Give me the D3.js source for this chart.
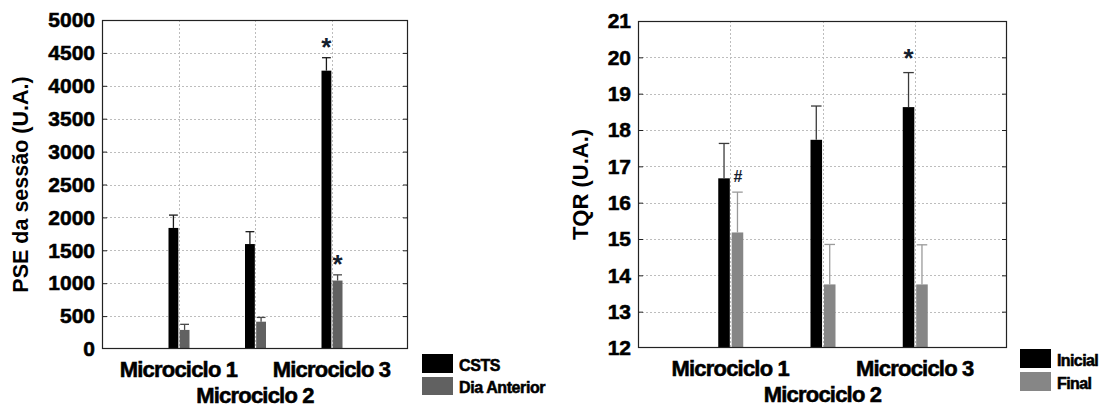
<!DOCTYPE html>
<html>
<head>
<meta charset="utf-8">
<script src="https://cdn.jsdelivr.net/npm/d3@7/dist/d3.min.js"></script>
<style>
  html, body { margin: 0; padding: 0; background: #fff; }
  svg { display: block; }
  text { font-family: "Liberation Sans", Arial, sans-serif; }
  .heavy { font-weight: bold; stroke: #000; stroke-width: 0.55px; paint-order: stroke; }
</style>
</head>
<body>
<svg id="chart" width="1107" height="407"></svg>
<script>
// Categories shared by both panels
const categories = ["Microciclo 1", "Microciclo 2", "Microciclo 3"];

// Panel A: session RPE (PSE da sessão)
const pseSeries = ["CSTS", "Dia Anterior"];
const pseCsts = [1840, 1595, 4230];
const pseCstsSd = [195, 188, 197];
const pseDia = [290, 415, 1040];
const pseDiaSd = [85, 65, 87];
const pseTicks = [0, 500, 1000, 1500, 2000, 2500, 3000, 3500, 4000, 4500, 5000];
// significance marks: [series index, category index, symbol]
const pseMarks = [[0, 2, "*"], [1, 2, "*"]];

// Panel B: total quality recovery (TQR)
const tqrSeries = ["Inicial", "Final"];
const tqrInicial = [16.67, 17.73, 18.63];
const tqrInicialSd = [0.96, 0.93, 0.95];
const tqrFinal = [15.18, 13.75, 13.75];
const tqrFinalSd = [1.11, 1.10, 1.09];
const tqrTicks = [12, 13, 14, 15, 16, 17, 18, 19, 20, 21];
const tqrMarks = [[0, 2, "*"], [1, 0, "#"]];

const svg = d3.select("#chart");

function panel(cfg) {
  const g = svg.append("g");
  const y = d3.scaleLinear().domain(cfg.domain).range([cfg.y1, cfg.y0]);
  const x = d3.scalePoint().domain(categories).range([cfg.x0, cfg.x1]).padding(1);
  const sub = d3.scaleBand().domain(cfg.series).range(cfg.subRange).paddingInner(cfg.subPad);

  // dotted grid
  g.append("g").selectAll("line").data(cfg.ticks.slice(1, -1)).join("line")
    .attr("x1", cfg.x0).attr("x2", cfg.x1)
    .attr("y1", d => Math.round(y(d)) + 0.5).attr("y2", d => Math.round(y(d)) + 0.5)
    .attr("stroke", "#bdbdbd").attr("stroke-dasharray", "2,2");
  g.append("g").selectAll("line").data(categories).join("line")
    .attr("x1", d => Math.round(x(d)) + 0.5).attr("x2", d => Math.round(x(d)) + 0.5)
    .attr("y1", cfg.y0).attr("y2", cfg.y1)
    .attr("stroke", "#bdbdbd").attr("stroke-dasharray", "2,2");

  // bars and error bars
  cfg.series.forEach((s, si) => {
    const vals = cfg.values[si], sds = cfg.sds[si];
    const bw = sub.bandwidth();
    g.append("g").selectAll("rect").data(categories).join("rect")
      .attr("x", (c) => x(c) + sub(s))
      .attr("width", bw)
      .attr("y", (c, i) => y(vals[i]))
      .attr("height", (c, i) => cfg.y1 - y(vals[i]))
      .attr("fill", cfg.colors[si]);
    const eg = g.append("g").attr("stroke", cfg.errColors[si]).attr("stroke-width", 1.3);
    categories.forEach((c, i) => {
      const cx = x(c) + sub(s) + bw / 2;
      const top = y(vals[i] + sds[i]);
      eg.append("line").attr("x1", cx).attr("x2", cx).attr("y1", y(vals[i])).attr("y2", top);
      eg.append("line").attr("x1", cx - bw / 2 + 0.5).attr("x2", cx + bw / 2 - 0.5).attr("y1", top).attr("y2", top);
    });
  });

  // significance marks
  cfg.marks.forEach(([si, ci, sym]) => {
    const s = cfg.series[si];
    const cx = x(categories[ci]) + sub(s) + sub.bandwidth() / 2;
    const top = y(cfg.values[si][ci] + cfg.sds[si][ci]);
    const star = sym === "*";
    g.append("text")
      .attr("x", cx + (star ? 0 : 0.5))
      .attr("y", star ? top - cfg.markGap + 15 : top - 10)
      .attr("text-anchor", "middle")
      .style("font-size", (star ? 26 : 16) + "px")
      .style("font-weight", "bold")
      .attr("fill", "#14202e")
      .text(sym);
  });

  // frame
  g.append("rect").attr("x", cfg.x0 + 0.5).attr("y", cfg.y0 + 0.5)
    .attr("width", cfg.x1 - cfg.x0 - 1).attr("height", cfg.y1 - cfg.y0 - 1)
    .attr("fill", "none").attr("stroke", "#222").attr("stroke-width", 1.2);

  // y axis: labels on the left, short inward ticks on both edges
  const yAxis = d3.axisLeft(y).tickValues(cfg.ticks).tickSize(0).tickPadding(7).tickFormat(d3.format("d"));
  const ya = g.append("g").attr("transform", `translate(${cfg.x0},0)`).call(yAxis);
  ya.select(".domain").remove();
  ya.attr("font-size", null).attr("font-family", null);
  ya.selectAll("text")
    .attr("class", "heavy")
    .style("font-size", "21px")
    .style("font-family", "'Liberation Sans', Arial, sans-serif")
    .attr("fill", "#000");
  const inner = cfg.ticks.slice(1, -1);
  const yl = g.append("g").attr("transform", `translate(${cfg.x0 + 1},0)`)
    .call(d3.axisRight(y).tickValues(inner).tickSize(4).tickFormat(""));
  yl.select(".domain").remove();
  yl.selectAll("line").attr("stroke", "#222");
  const yr = g.append("g").attr("transform", `translate(${cfg.x1 - 1},0)`)
    .call(d3.axisLeft(y).tickValues(inner).tickSize(4).tickFormat(""));
  yr.select(".domain").remove();
  yr.selectAll("line").attr("stroke", "#222");

  // x labels, staggered
  categories.forEach((c, i) => {
    g.append("text")
      .attr("class", "heavy")
      .attr("x", x(c))
      .attr("y", i === 1 ? cfg.y1 + 54 : cfg.y1 + 28)
      .attr("text-anchor", "middle")
      .style("font-size", "22px")
      .attr("letter-spacing", -0.8)
      .text(c);
  });

  // y title
  g.append("text")
    .attr("transform", `translate(${cfg.titleX},${(cfg.y0 + cfg.y1) / 2}) rotate(-90)`)
    .attr("text-anchor", "middle").attr("dominant-baseline", "central")
    .style("font-size", cfg.titleSize + "px").style("font-weight", "bold")
    .text(cfg.title);

  // legend
  cfg.series.forEach((s, si) => {
    const [lx, ly, lh] = cfg.legend[si];
    g.append("rect").attr("x", lx).attr("y", ly).attr("width", 31).attr("height", lh)
      .attr("fill", cfg.colors[si]);
    g.append("text").attr("class", "heavy").attr("x", lx + 37).attr("y", ly + lh - 2)
      .style("font-size", cfg.legendSize + "px")
      .attr("letter-spacing", cfg.legendSpacing)
      .text(s);
  });
}

panel({
  x0: 102, x1: 408, y0: 20, y1: 349,
  domain: [0, 5000], ticks: pseTicks,
  series: pseSeries,
  values: [pseCsts, pseDia], sds: [pseCstsSd, pseDiaSd],
  colors: ["#000000", "#616161"], errColors: ["#1a1a1a", "#4a4a4a"],
  subRange: [-10, 11], subPad: 0.12,
  marks: pseMarks, markGap: 17,
  title: "PSE da sessão (U.A.)", titleX: 21, titleSize: 21.5,
  legend: [[422, 354, 19], [422, 377, 18]], legendSize: 16, legendSpacing: -0.4
});

panel({
  x0: 638, x1: 1007, y0: 21, y1: 348,
  domain: [12, 21], ticks: tqrTicks,
  series: tqrSeries,
  values: [tqrInicial, tqrFinal], sds: [tqrInicialSd, tqrFinalSd],
  colors: ["#000000", "#868686"], errColors: ["#3a3a3a", "#9a9a9a"],
  subRange: [-12, 13], subPad: 0.14,
  marks: tqrMarks, markGap: 21,
  title: "TQR (U.A.)", titleX: 580, titleSize: 22,
  legend: [[1020, 349, 19], [1020, 372, 19]], legendSize: 16, legendSpacing: -0.6
});
</script>
</body>
</html>
